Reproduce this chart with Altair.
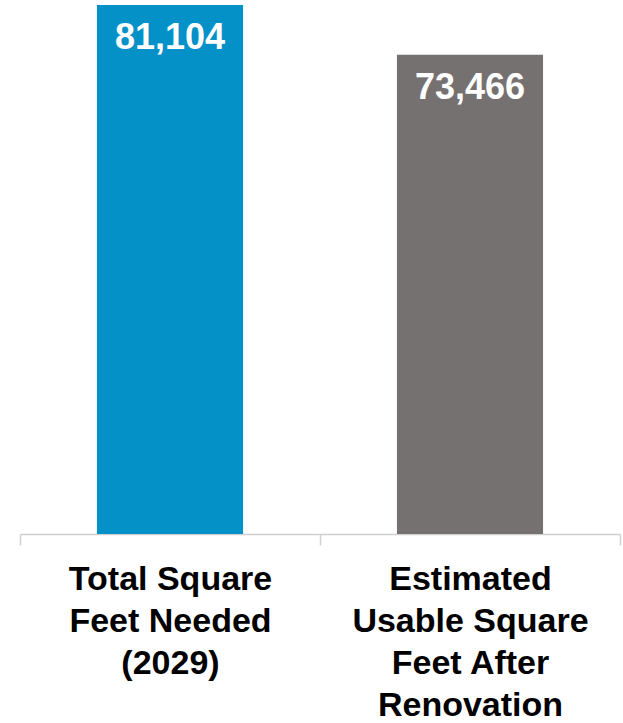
import altair as alt
import pandas as pd

categories = ["Total Square\nFeet Needed\n(2029)", "Estimated\nUsable Square\nFeet After\nRenovation"]
values = [81104, 73466]
colors = ["#0491C8", "#767171"]

df = pd.DataFrame({"cat": categories, "val": values, "color": colors})
df["label"] = df["val"].map(lambda v: f"{v:,}")

x = alt.X(
    "cat:N",
    sort=categories,
    title=None,
    scale=alt.Scale(paddingInner=0, paddingOuter=0),
    axis=alt.Axis(
        labelAngle=0,
        labelExpr="split(datum.label, '\\n')",
        labelFont="Liberation Sans",
        labelFontWeight="bold",
        labelFontSize=34,
        labelColor="#000000",
        labelLineHeight=42,
        labelLimit=0,
        labelPadding=17,
        labelBaseline="top",
        tickBand="extent",
        tickSize=11,
        tickColor="#D0D0D0",
        domainColor="#D0D0D0",
        domainWidth=1.5,
        tickWidth=1.5,
        grid=False,
    ),
)
y = alt.Y("val:Q", scale=alt.Scale(domain=[0, 81870], nice=False, zero=True), axis=None)

base = alt.Chart(df).encode(x=x, y=y)
bars = base.mark_bar(width=alt.RelativeBandSize(0.487)).encode(color=alt.Color("color:N", scale=None))
text = base.mark_text(
    baseline="top", dy=16, color="white", font="Liberation Sans", fontWeight="bold", fontSize=36
).encode(text="label:N")

chart = (
    alt.layer(bars, text)
    .properties(
        width=600,
        height=534,
        autosize=alt.AutoSizeParams(type="none"),
        padding={"left": 20, "top": 0, "right": 3, "bottom": 189},
    )
    .configure_view(stroke=None)
)
chart.save("out.html", embed_options={"renderer": "svg", "actions": False})
